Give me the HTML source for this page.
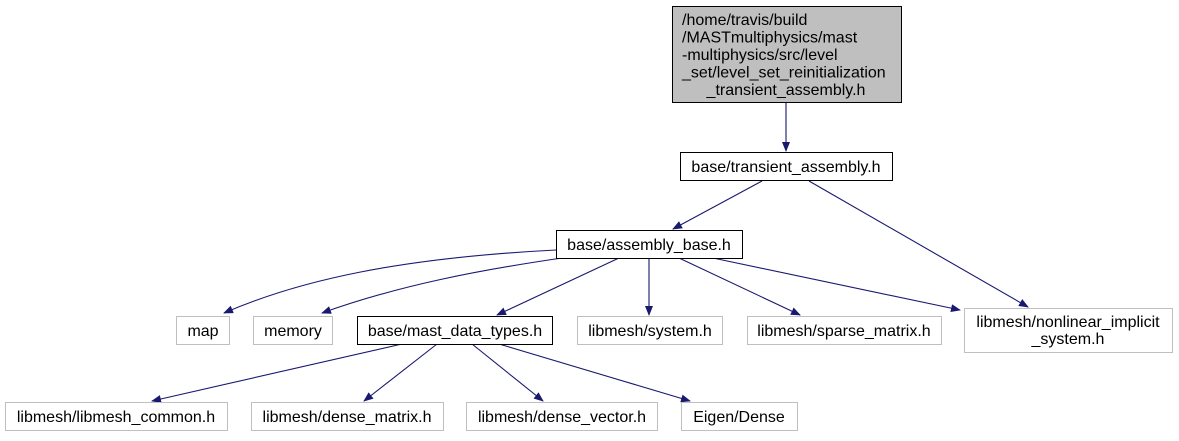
<!DOCTYPE html>
<html><head><style>body{margin:0;background:#fff}svg text{font-family:"Liberation Sans",sans-serif;font-size:16px}</style></head><body>
<svg width="1179" height="436" xmlns="http://www.w3.org/2000/svg">
<defs><marker id="a" markerWidth="10" markerHeight="8" refX="9" refY="4" orient="auto" markerUnits="userSpaceOnUse"><path d="M0,0 L10,4 L0,8 z" fill="#191970"/></marker></defs>
<g stroke="#191970" stroke-width="1.1" fill="none" marker-end="url(#a)">
<line x1="786" y1="103" x2="786" y2="151"/>
<line x1="762" y1="181" x2="673" y2="229"/>
<line x1="809" y1="181" x2="1028" y2="307"/>
<path d="M556,250 C400,258 300,280 224,313"/>
<path d="M562,258 C480,270 400,285 322,313"/>
<line x1="619" y1="258" x2="497" y2="315"/>
<line x1="649" y1="258" x2="649" y2="315"/>
<line x1="679" y1="258" x2="800" y2="315"/>
<line x1="713" y1="258" x2="960" y2="310"/>
<line x1="402" y1="344" x2="152" y2="401"/>
<line x1="437" y1="344" x2="364" y2="401"/>
<line x1="472" y1="344" x2="543" y2="401"/>
<line x1="499" y1="344" x2="690" y2="401"/>
</g>
<g stroke-width="1" >
<rect x="672.5" y="6.5" width="229" height="96" fill="#bfbfbf" stroke="#000"/>
<rect x="680.5" y="152.5" width="212" height="28" fill="#fff" stroke="#000"/>
<rect x="556.5" y="230.5" width="186" height="28" fill="#fff" stroke="#000"/>
<rect x="357.5" y="316.5" width="195" height="28" fill="#fff" stroke="#000"/>
<g fill="#fff" stroke="#bfbfbf">
<rect x="176.5" y="316.5" width="53" height="28"/>
<rect x="253.5" y="316.5" width="79" height="28"/>
<rect x="577.5" y="316.5" width="145" height="28"/>
<rect x="747.5" y="316.5" width="194" height="28"/>
<rect x="964.5" y="308.5" width="208" height="44"/>
<rect x="5.5" y="402.5" width="222" height="28"/>
<rect x="251.5" y="402.5" width="192" height="28"/>
<rect x="466.5" y="402.5" width="191" height="28"/>
<rect x="681.5" y="402.5" width="116" height="28"/>
</g></g>
<g fill="#000">
<text x="682" y="25">/home/travis/build</text>
<text x="682" y="42.5">/MASTmultiphysics/mast</text>
<text x="682" y="60">-multiphysics/src/level</text>
<text x="682" y="77.5">_set/level_set_reinitialization</text>
<text x="786" y="95" text-anchor="middle">_transient_assembly.h</text>
<text x="786" y="172" text-anchor="middle">base/transient_assembly.h</text>
<text x="649" y="250" text-anchor="middle">base/assembly_base.h</text>
<text x="455" y="336" text-anchor="middle">base/mast_data_types.h</text>
<text x="203" y="336" text-anchor="middle">map</text>
<text x="293" y="336" text-anchor="middle">memory</text>
<text x="650" y="336" text-anchor="middle">libmesh/system.h</text>
<text x="844" y="336" text-anchor="middle">libmesh/sparse_matrix.h</text>
<text x="1068" y="327" text-anchor="middle">libmesh/nonlinear_implicit</text>
<text x="1068" y="344" text-anchor="middle">_system.h</text>
<text x="116" y="422" text-anchor="middle">libmesh/libmesh_common.h</text>
<text x="347" y="422" text-anchor="middle">libmesh/dense_matrix.h</text>
<text x="562" y="422" text-anchor="middle">libmesh/dense_vector.h</text>
<text x="739" y="422" text-anchor="middle">Eigen/Dense</text>
</g>
</svg>
</body></html>
